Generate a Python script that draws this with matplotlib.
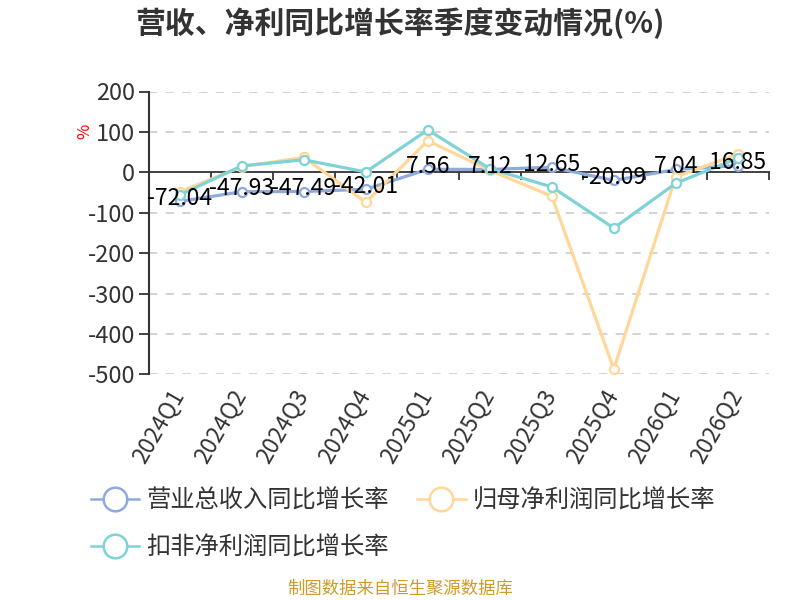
import matplotlib
matplotlib.use("Agg")
import matplotlib.pyplot as plt
from matplotlib.lines import Line2D
from matplotlib.ticker import FixedLocator, NullFormatter
import numpy as np

plt.rcParams['font.family'] = ['Noto Sans CJK SC', 'DejaVu Sans']
plt.rcParams['axes.unicode_minus'] = False

quarters = ["2024Q1", "2024Q2", "2024Q3", "2024Q4", "2025Q1",
            "2025Q2", "2025Q3", "2025Q4", "2026Q1", "2026Q2"]
revenue = [-72.04, -47.93, -47.49, -42.01, 7.56, 7.12, 12.65, -20.09, 7.04, 16.85]
net_profit = [-48, 14, 37, -74, 78, 5, -59, -487, -11, 45]
deducted_profit = [-56, 16, 31, 1, 105, 9, -36, -138, -27, 35]

series_names = ["营业总收入同比增长率", "归母净利润同比增长率", "扣非净利润同比增长率"]
colors = ["#8FAADC", "#FFD799", "#7FD3D6"]
yticks = [200, 100, 0, -100, -200, -300, -400, -500]

fig = plt.figure(figsize=(8, 6), dpi=100)
ax = fig.add_axes([0.186, 0.376, 0.775, 0.4715])

x = np.arange(len(quarters))
for i, (vals, c) in enumerate(zip([revenue, net_profit, deducted_profit], colors)):
    ax.plot(x, vals, color=c, lw=2.3, marker='o', ms=6.5, mfc='white',
            mec=c, mew=1.6, zorder=3 + i, solid_joinstyle='round')

for xi, v in zip(x, revenue):
    ax.annotate(f"{v:.2f}", (xi, v), xytext=(0, 2), textcoords='offset points',
                ha='center', va='center', fontsize=16.5, color='black', zorder=10)

ax.set_xlim(-0.5, len(quarters) - 0.5)
ax.set_ylim(-500, 200)
ax.set_yticks(yticks)
ax.set_yticklabels([str(t) for t in yticks])
ax.tick_params(axis='y', direction='out', length=7, width=1.3, color='#333333',
               labelsize=17, labelcolor='#333333', pad=3)

for t in yticks:
    if t != 0:
        ax.axhline(t, color='#CCCCCC', lw=1.2, ls=(0, (5, 5)), zorder=1)

for s in ['top', 'right']:
    ax.spines[s].set_visible(False)
ax.spines['left'].set_color('#333333')
ax.spines['left'].set_linewidth(1.5)
ax.spines['bottom'].set_position(('data', 0))
ax.spines['bottom'].set_color('#333333')
ax.spines['bottom'].set_linewidth(1.3)

ax.xaxis.set_major_locator(FixedLocator(x))
ax.xaxis.set_major_formatter(NullFormatter())
ax.xaxis.set_minor_locator(FixedLocator(np.arange(len(quarters) + 1) - 0.5))
ax.tick_params(axis='x', which='major', length=0)
ax.tick_params(axis='x', which='minor', direction='out', length=6, width=1.3, color='#333333')

trans = ax.get_xaxis_transform()
for xi, q in zip(x, quarters):
    ax.annotate(q, (xi, 0), xycoords=trans, xytext=(-1, -12), textcoords='offset points',
                rotation=60, rotation_mode='anchor', ha='right', va='center',
                fontsize=16.5, color='#333333')

fig.text(0.5, 1 - 23 / 600, "营收、净利同比增长率季度变动情况(%)", ha='center', va='center',
         fontsize=21.5, fontweight='bold', color='#333333')
fig.text(85 / 800, 1 - 131 / 600, "%", rotation=90, ha='center', va='center',
         color='red', fontsize=12)

handles = [Line2D([0], [0], color=c, lw=1.8, marker='o', ms=17, mfc='white', mec=c, mew=1.8)
           for c in colors]
order = [0, 2, 1]
fig.legend([handles[k] for k in order], [series_names[k] for k in order], ncol=2,
           loc='upper left', bbox_to_anchor=(0.086, 1 - 466 / 600), frameon=False,
           fontsize=17.5, handlelength=2.0, handletextpad=0.3, columnspacing=1.15,
           labelspacing=0.85, labelcolor='#333333')

fig.text(0.5, 1 - 589 / 600, "制图数据来自恒生聚源数据库", ha='center', va='center',
         fontsize=12.5, color='#D09A2C')

fig.savefig("out.png", dpi=100)
